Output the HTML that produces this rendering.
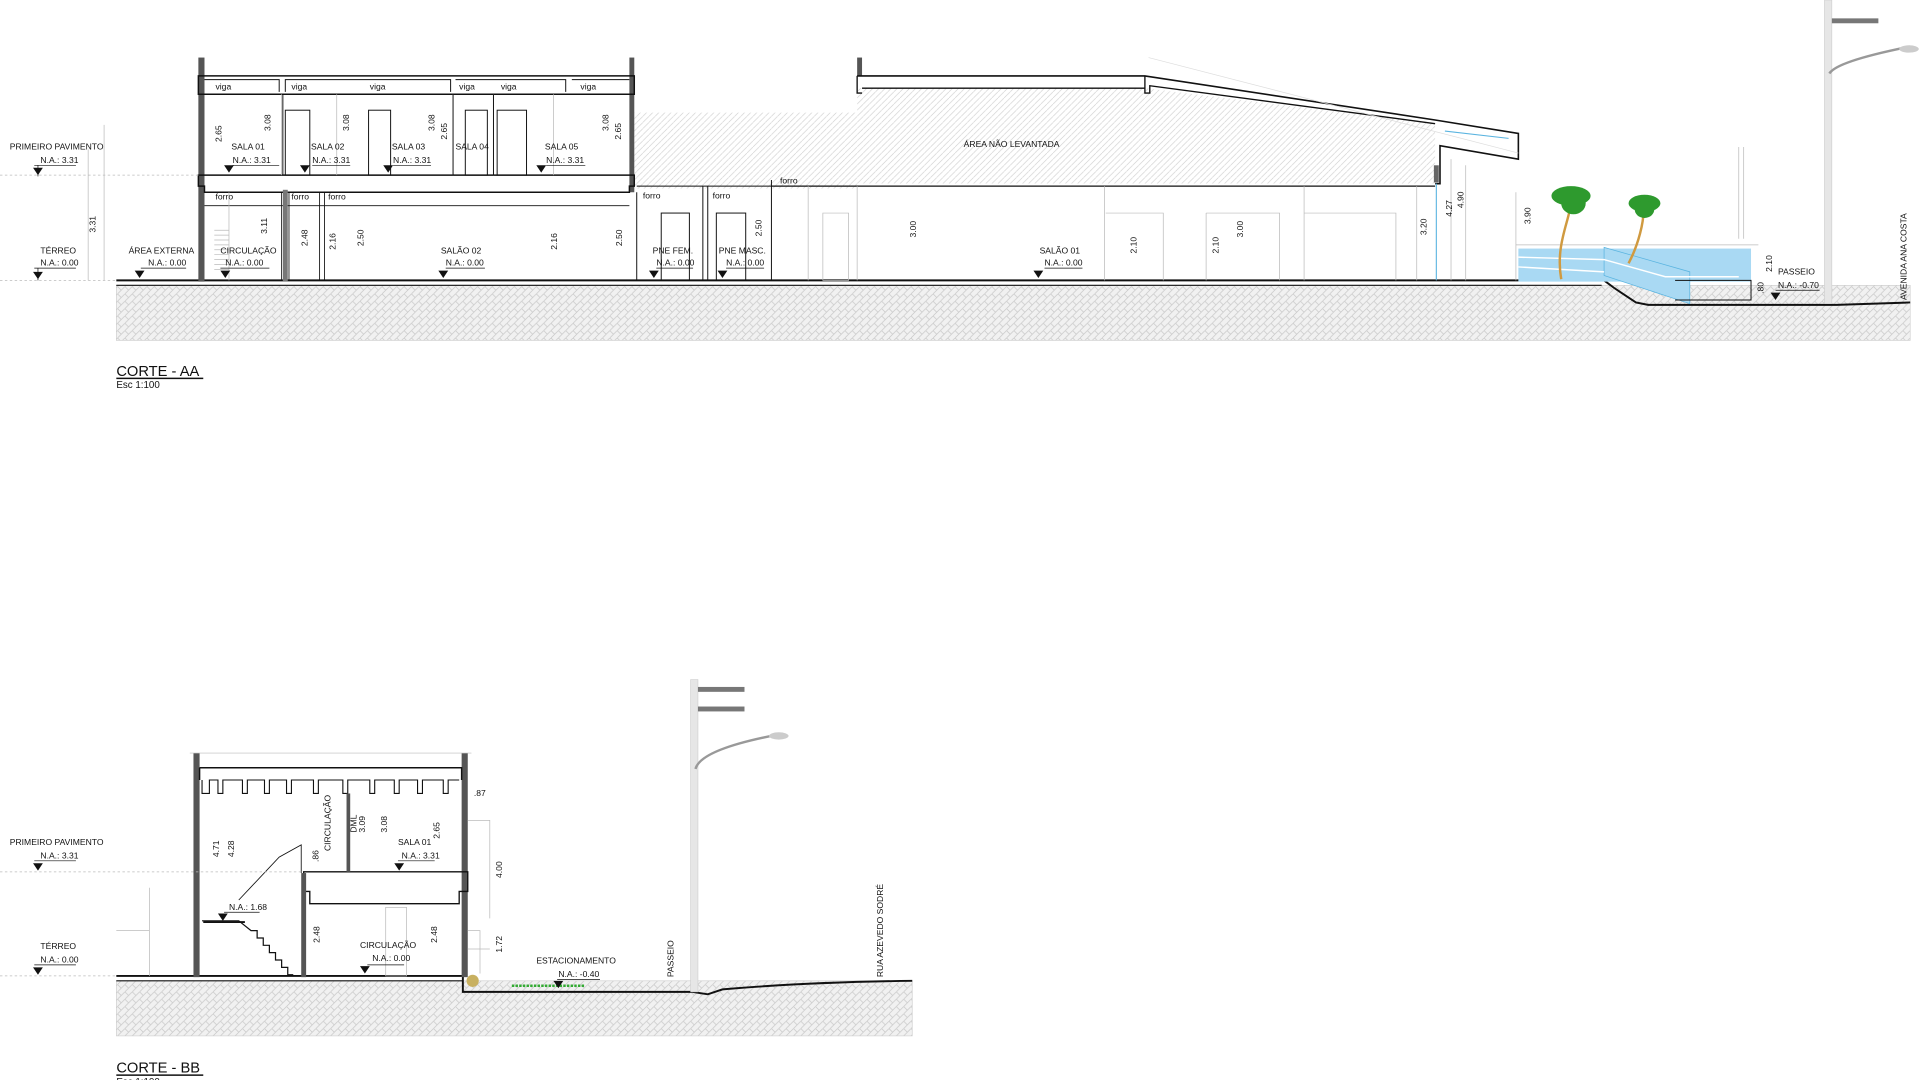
<!DOCTYPE html>
<html><head><meta charset="utf-8"><style>
html,body{margin:0;padding:0;background:#fff;width:1920px;height:1080px;overflow:hidden}
svg{display:block}
text{font-family:"Liberation Sans",sans-serif;fill:#111}
.t{font-size:7px}
.l{stroke:#111;fill:none}
.g{stroke:#bbb;fill:none;stroke-width:.6}
</style></head><body>
<svg width="1920" height="1080" viewBox="0 0 1568 882" preserveAspectRatio="none" xmlns="http://www.w3.org/2000/svg">
<defs>
<pattern id="hz" width="6" height="6" patternUnits="userSpaceOnUse">
<rect width="6" height="6" fill="#f1f1f1"/>
<path d="M0 6L6 0M0 0L3 3" stroke="#c8c8c8" stroke-width=".6"/>
</pattern>
<pattern id="hd" width="5" height="5" patternUnits="userSpaceOnUse" patternTransform="rotate(0)">
<rect width="5" height="5" fill="#fff"/>
<path d="M0 5L5 0" stroke="#cfcfcf" stroke-width=".5"/>
</pattern>
<marker id="na" viewBox="0 0 10 10" refX="5" refY="10" markerWidth="6" markerHeight="6"><path d="M0 0h10L5 10z" fill="#111"/></marker>
</defs>

<!-- ============ CORTE AA ============ -->
<!-- ground -->
<rect x="95" y="233" width="1465" height="45" fill="url(#hz)" stroke="#ccc" stroke-width=".5"/>
<path d="M95 229H1310l8 6 6 4 6 4 6 4 10 2H1500l60 -2" class="l" stroke-width="1.6"/>
<path d="M95 233H1308" class="l" stroke-width="1"/>
<!-- hatched non-surveyed areas -->
<rect x="518" y="92" width="182" height="62" fill="url(#hd)"/>
<path d="M700 72H935L1172 101V150H700Z" fill="url(#hd)"/>
<!-- building 1 -->
<rect x="162" y="47" width="5" height="183" fill="#555"/>
<rect x="514" y="47" width="4" height="110" fill="#555"/>
<path d="M162 62H518V77H162Z" class="l" stroke-width="1.2"/>
<path d="M167 65H228V75M233 75V65H368V75M372 65H462V75M467 65H514" class="l" stroke-width=".8"/>
<text class="t" x="176" y="73">viga</text><text class="t" x="238" y="73">viga</text><text class="t" x="302" y="73">viga</text><text class="t" x="375" y="73">viga</text><text class="t" x="409" y="73">viga</text><text class="t" x="474" y="73">viga</text>
<path d="M162 143H518V152H514V157H167V152H162Z" class="l" stroke-width="1.2"/>
<path d="M230 77V143M275 77V143M370 77V143M403 77V143M452 77V143" class="g"/>
<path d="M231 77V143M370 77V143M403 77V143" class="l" stroke-width=".8"/>
<rect x="233" y="90" width="20" height="53" class="l" stroke-width=".8"/>
<rect x="301" y="90" width="18" height="53" class="l" stroke-width=".8"/>
<rect x="380" y="90" width="18" height="53" class="l" stroke-width=".8"/>
<rect x="406" y="90" width="24" height="53" class="l" stroke-width=".8"/>
<path d="M167 168H514M230 157V229M236 157V229M261 157V229M265 157V229" class="l" stroke-width=".7"/>
<rect x="231" y="155" width="4" height="75" fill="#777"/>
<path d="M175 188h12M175 192h12M175 196h12M175 200h12M175 204h12M175 208h12M175 212h12M175 216h12M175 220h12M187 157V229" class="g"/>
<text class="t" x="176" y="163">forro</text><text class="t" x="238" y="163">forro</text><text class="t" x="268" y="163">forro</text>
<!-- PNE rooms -->
<path d="M520 152H630M520 157V229M574 152V229M578 152V229M630 147V229" class="l" stroke-width=".8"/>
<text class="t" x="525" y="162">forro</text><text class="t" x="582" y="162">forro</text><text class="t" x="637" y="150">forro</text>
<rect x="540" y="174" width="23" height="55" class="l" stroke-width=".8"/>
<rect x="585" y="174" width="24" height="55" class="l" stroke-width=".8"/>
<!-- building 2 -->
<rect x="700" y="47" width="4" height="15" fill="#555"/>
<path d="M700 62H935L1172 98 1240 109V130L1176 119V150H1172" class="l" stroke-width="1.3"/>
<path d="M704 72H935M935 62V76h4V70L1172 101" class="l" stroke-width="1.1"/>
<path d="M700 62V76h4" class="l" stroke-width="1.1"/>
<path d="M630 152H1172" class="l" stroke-width="1.1"/>
<path d="M938 47L1240 125" stroke="#ddd" stroke-width=".6"/>
<path d="M660 152V229M700 152V229M902 152V229M1065 152V229M1157 152V229" class="g"/>
<path d="M672 174H693V229H672ZM903 174H950V229M985 174H1045V229M1065 174H1140V229M985 174V229" class="g"/>
<rect x="1171" y="135" width="4" height="14" fill="#666"/>
<path d="M1173 150V229M1180 107L1232 113" stroke="#5ab4e0" stroke-width=".9"/>
<path d="M1185 130V229M1197 135V229M1238 157V229" class="g"/>
<!-- landscape -->
<path d="M1238 200H1436M1420 120V195M1424 120V195" class="g"/>
<rect x="1240" y="203" width="190" height="27" fill="#a9d9f3"/>
<path d="M1310 202L1380 222V248L1310 225Z" fill="#a9d9f3" stroke="#5ab4e0" stroke-width=".6"/>
<path d="M1240 210L1310 212 1360 226H1420M1240 218L1310 222" stroke="#fff" stroke-width="1.2" fill="none"/>
<path d="M1368 229H1430V245H1368" class="l" stroke-width=".8"/>
<path d="M1275 228C1270 200 1282 180 1283 165M1330 215C1338 200 1343 180 1342 170" stroke="#d09a40" stroke-width="2" fill="none"/>
<g fill="#2e9a2e"><ellipse cx="1283" cy="160" rx="16" ry="8"/><ellipse cx="1285" cy="166" rx="10" ry="9"/><ellipse cx="1343" cy="166" rx="13" ry="7"/><ellipse cx="1343" cy="171" rx="8" ry="7"/></g>
<!-- street pole -->
<rect x="1490" y="0" width="6" height="248" fill="#e6e6e6" stroke="#ccc" stroke-width=".5"/>
<rect x="1496" y="15" width="38" height="4" fill="#777"/>
<path d="M1494 60Q1500 50 1560 38" stroke="#999" stroke-width="2" fill="none"/>
<ellipse cx="1559" cy="40" rx="8" ry="3" fill="#ccc"/>
<!-- levels left -->
<path d="M0 143H162M0 229H95" stroke="#bbb" stroke-dasharray="2 2" stroke-width=".6"/>
<path d="M72 122V229M85 102V229" class="g"/>
<text class="t" x="8" y="122">PRIMEIRO PAVIMENTO</text>
<text class="t" x="33" y="133">N.A.: 3.31</text><path d="M28 135H62" class="l" stroke-width=".6"/>
<path d="M27 137h8l-4 6z" fill="#111"/><path d="M31 135V144" class="l" stroke-width=".6"/>
<text class="t" x="33" y="207">TÉRREO</text>
<text class="t" x="33" y="217">N.A.: 0.00</text><path d="M28 219H62" class="l" stroke-width=".6"/>
<path d="M27 222h8l-4 6z" fill="#111"/><path d="M31 219V229" class="l" stroke-width=".6"/>
<text class="t" transform="translate(78,190) rotate(-90)">3.31</text>
<!-- room labels AA -->
<g class="t">
<text x="105" y="207">ÁREA EXTERNA</text><text x="121" y="217">N.A.: 0.00</text>
<text x="180" y="207">CIRCULAÇÃO</text><text x="184" y="217">N.A.: 0.00</text>
<text x="189" y="122">SALA 01</text><text x="190" y="133">N.A.: 3.31</text>
<text x="254" y="122">SALA 02</text><text x="255" y="133">N.A.: 3.31</text>
<text x="320" y="122">SALA 03</text><text x="321" y="133">N.A.: 3.31</text>
<text x="372" y="122">SALA 04</text>
<text x="445" y="122">SALA 05</text><text x="446" y="133">N.A.: 3.31</text>
<text x="360" y="207">SALÃO 02</text><text x="364" y="217">N.A.: 0.00</text>
<text x="533" y="207">PNE FEM.</text><text x="536" y="217">N.A.: 0.00</text>
<text x="587" y="207">PNE MASC.</text><text x="593" y="217">N.A.: 0.00</text>
<text x="849" y="207">SALÃO 01</text><text x="853" y="217">N.A.: 0.00</text>
<text x="787" y="120">ÁREA NÃO LEVANTADA</text>
<text x="1452" y="224">PASSEIO</text><text x="1452" y="235">N.A.: -0.70</text>
</g>
<g class="l" stroke-width=".6"><path d="M115 219H152M180 219H220M190 135H228M255 135H286M321 135H352M446 135H478M364 219H396M536 219H566M593 219H624M853 219H884M1450 237H1486"/></g>
<g fill="#111"><path d="M110 221h8l-4 6zM180 221h8l-4 6zM183 135h8l-4 6zM245 135h8l-4 6zM313 135h8l-4 6zM438 135h8l-4 6zM358 221h8l-4 6zM530 221h8l-4 6zM586 221h8l-4 6zM844 221h8l-4 6zM1446 239h8l-4 6z"/></g>
<g class="t" font-size="6">
<text transform="translate(181,116) rotate(-90)">2.65</text><text transform="translate(221,107) rotate(-90)">3.08</text>
<text transform="translate(285,107) rotate(-90)">3.08</text><text transform="translate(355,107) rotate(-90)">3.08</text>
<text transform="translate(365,114) rotate(-90)">2.65</text><text transform="translate(497,107) rotate(-90)">3.08</text>
<text transform="translate(507,114) rotate(-90)">2.65</text><text transform="translate(218,191) rotate(-90)">3.11</text>
<text transform="translate(251,201) rotate(-90)">2.48</text><text transform="translate(274,204) rotate(-90)">2.16</text>
<text transform="translate(297,201) rotate(-90)">2.50</text><text transform="translate(455,204) rotate(-90)">2.16</text>
<text transform="translate(508,201) rotate(-90)">2.50</text><text transform="translate(622,193) rotate(-90)">2.50</text>
<text transform="translate(748,194) rotate(-90)">3.00</text><text transform="translate(928,207) rotate(-90)">2.10</text>
<text transform="translate(995,207) rotate(-90)">2.10</text><text transform="translate(1015,194) rotate(-90)">3.00</text>
<text transform="translate(1165,192) rotate(-90)">3.20</text><text transform="translate(1186,177) rotate(-90)">4.27</text>
<text transform="translate(1195,170) rotate(-90)">4.90</text><text transform="translate(1250,183) rotate(-90)">3.90</text>
<text transform="translate(1447,222) rotate(-90)">2.10</text><text transform="translate(1440,240) rotate(-90)">.80</text>
<text transform="translate(1557,245) rotate(-90)" font-size="7">AVENIDA ANA COSTA</text>
</g>
<text x="95" y="307" font-size="12">CORTE - AA</text><path d="M95 309H166" class="l" stroke-width="1.2"/>
<text x="95" y="317" font-size="8">Esc 1:100</text>

<!-- ============ CORTE BB ============ -->
<rect x="95" y="801" width="650" height="45" fill="url(#hz)" stroke="#ccc" stroke-width=".5"/>
<path d="M95 797H378V810H565L578 812 590 808Q660 802 745 801" class="l" stroke-width="1.6"/>
<path d="M95 801H378" class="l"/>
<rect x="158" y="615" width="5" height="183" fill="#555"/>
<rect x="377" y="615" width="5" height="183" fill="#555"/>
<path d="M155 615H385" class="g"/>
<path d="M163 627H377V637M163 637V627" class="l" stroke-width="1.2"/>
<path d="M165 637V648h6V637H178V648h4V637H198V648h4V637H216V648h4V637H234V648h4V637H256V648h4V637H280V648h4V637H302V648h4V637H322V648h4V637H341V648h4V637H362V648h4V637H375" class="l" stroke-width=".9"/>
<path d="M248 712H382V728H375V738H253V728H248Z" class="l" stroke-width="1.1"/>
<rect x="246" y="713" width="4" height="85" fill="#555"/>
<rect x="283" y="648" width="3" height="64" fill="#555"/>
<path d="M165 752H195L205 760h5v6h5v6h5v6h5v6h5v6h5v6h4V797" class="l" stroke-width="1"/>
<path d="M166 753H200" class="l" stroke-width="1.5"/>
<path d="M195 735L228 700 246 690V713" class="l" stroke-width=".7"/>
<rect x="315" y="741" width="17" height="56" class="g"/>
<path d="M382 670H400V750M382 760H392V795M382 775H400" class="g"/>
<path d="M122 725V797M95 760H122V797" class="g"/>
<path d="M0 712H248M0 797H95" stroke="#bbb" stroke-dasharray="2 2" stroke-width=".6"/>
<circle cx="386" cy="801" r="5" fill="#c8b060"/>
<path d="M418 805H478" stroke="#3a3" stroke-width="2" stroke-dasharray="2 1"/>
<!-- pole BB -->
<rect x="564" y="555" width="6" height="255" fill="#e6e6e6" stroke="#ccc" stroke-width=".5"/>
<rect x="570" y="561" width="38" height="4" fill="#777"/><rect x="570" y="577" width="38" height="4" fill="#777"/>
<path d="M568 628Q572 612 635 600" stroke="#999" stroke-width="2" fill="none"/>
<ellipse cx="636" cy="601" rx="8" ry="3" fill="#ccc"/>
<g class="t">
<text x="8" y="690">PRIMEIRO PAVIMENTO</text><text x="33" y="701">N.A.: 3.31</text>
<text x="33" y="775">TÉRREO</text><text x="33" y="786">N.A.: 0.00</text>
<text x="325" y="690">SALA 01</text><text x="328" y="701">N.A.: 3.31</text>
<text x="294" y="774">CIRCULAÇÃO</text><text x="304" y="785">N.A.: 0.00</text>
<text x="187" y="743">N.A.: 1.68</text>
<text x="438" y="787">ESTACIONAMENTO</text><text x="456" y="798">N.A.: -0.40</text>
<text x="387" y="650">.87</text>
</g>
<g class="l" stroke-width=".6"><path d="M28 703H62M28 788H62M325 703H355M300 788H330M183 745H212M455 800H490"/></g>
<g fill="#111"><path d="M27 705h8l-4 6zM27 790h8l-4 6zM322 705h8l-4 6zM294 789h8l-4 6zM178 746h8l-4 6zM452 801h8l-4 6z"/></g>
<g class="t" font-size="6">
<text transform="translate(179,700) rotate(-90)">4.71</text><text transform="translate(191,700) rotate(-90)">4.28</text>
<text transform="translate(260,704) rotate(-90)">.86</text><text transform="translate(316,680) rotate(-90)">3.08</text>
<text transform="translate(359,685) rotate(-90)">2.65</text><text transform="translate(261,770) rotate(-90)">2.48</text>
<text transform="translate(357,770) rotate(-90)">2.48</text><text transform="translate(410,717) rotate(-90)">4.00</text>
<text transform="translate(410,778) rotate(-90)">1.72</text>
<text transform="translate(291,680) rotate(-90)" font-size="7">DML</text><text transform="translate(298,680) rotate(-90)">3.09</text>
<text transform="translate(270,695) rotate(-90)" font-size="7">CIRCULAÇÃO</text>
<text transform="translate(550,798) rotate(-90)" font-size="7">PASSEIO</text>
<text transform="translate(721,798) rotate(-90)" font-size="7">RUA AZEVEDO SODRÉ</text>
</g>
<text x="95" y="876" font-size="12">CORTE - BB</text><path d="M95 878H166" class="l" stroke-width="1.2"/>
<text x="95" y="886" font-size="8">Esc 1:100</text>
</svg>
</body></html>
